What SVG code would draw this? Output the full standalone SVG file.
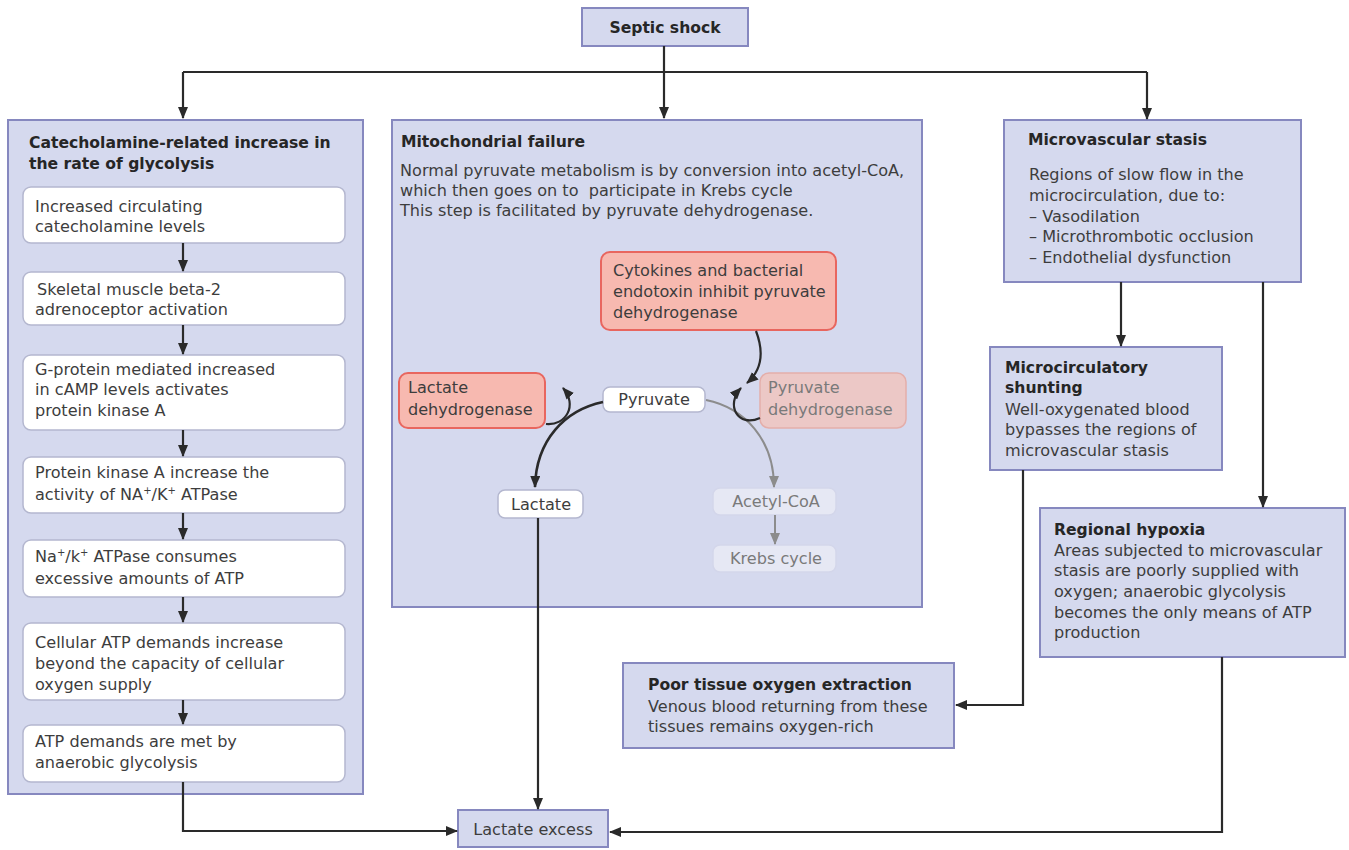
<svg xmlns="http://www.w3.org/2000/svg" width="1349" height="850" viewBox="0 0 1349 850">
<defs>
<style>
text{font-family:"DejaVu Sans","Liberation Sans",Arial,sans-serif;font-size:16.1px;fill:#3d3d3d}
.b{font-weight:bold;fill:#262626;font-size:15.6px}
.panel{fill:#d5d9ee;stroke:#8688bf;stroke-width:2}
.wb{fill:#ffffff;stroke:#b4b7cf;stroke-width:1.5}
.red{fill:#f7b9b0;stroke:#e8665f;stroke-width:2}
.fred{fill:#ecc8c6;stroke:#e4aeaa;stroke-width:1.5}
.fade{fill:#e6e8f4;stroke:#d3d6ea;stroke-width:1.5}
.ft{fill:#7a7a7a}
.ln{fill:none;stroke:#2a2a2a;stroke-width:2.2}
.gl{fill:none;stroke:#8c8c8c;stroke-width:2}
.sup{font-size:10px}
</style>
<marker id="ah" markerWidth="12" markerHeight="10" refX="11" refY="5" orient="auto" markerUnits="userSpaceOnUse"><path d="M0,0 L12,5 L0,10 z" fill="#2a2a2a"/></marker>
<marker id="ag" markerWidth="12" markerHeight="10" refX="11" refY="5" orient="auto" markerUnits="userSpaceOnUse"><path d="M0,0 L12,5 L0,10 z" fill="#8c8c8c"/></marker>
</defs>
<rect width="1349" height="850" fill="#ffffff"/>

<g id="septic-shock">
<rect x="582" y="8" width="166" height="38" class="panel"/>
<text class="b" x="665" y="33" text-anchor="middle">Septic shock</text>
</g>

<g id="catecholamine">
<rect x="8" y="120" width="355" height="674" class="panel"/>
<text class="b" x="29" y="148">Catecholamine-related increase in</text>
<text class="b" x="29" y="169">the rate of glycolysis</text>
</g>
<g id="step1">
<rect x="23" y="187" width="322" height="56" rx="8" class="wb"/>
<text x="35" y="212">Increased circulating</text>
<text x="35" y="232">catecholamine levels</text>
</g>
<g id="step2">
<rect x="23" y="272" width="322" height="53" rx="8" class="wb"/>
<text x="37" y="295">Skeletal muscle beta-2</text>
<text x="35" y="315">adrenoceptor activation</text>
</g>
<g id="step3">
<rect x="23" y="355" width="322" height="75" rx="8" class="wb"/>
<text x="35" y="375">G-protein mediated increased</text>
<text x="35" y="395">in cAMP levels activates</text>
<text x="35" y="416">protein kinase A</text>
</g>
<g id="step4">
<rect x="23" y="457" width="322" height="56" rx="8" class="wb"/>
<text x="35" y="478">Protein kinase A increase the</text>
<text x="35" y="500">activity of NA<tspan class="sup" dy="-6">+</tspan><tspan dy="6">/K</tspan><tspan class="sup" dy="-6">+</tspan><tspan dy="6"> ATPase</tspan></text>
</g>
<g id="step5">
<rect x="23" y="540" width="322" height="57" rx="8" class="wb"/>
<text x="35" y="562">Na<tspan class="sup" dy="-6">+</tspan><tspan dy="6">/k</tspan><tspan class="sup" dy="-6">+</tspan><tspan dy="6"> ATPase consumes</tspan></text>
<text x="35" y="584">excessive amounts of ATP</text>
</g>
<g id="step6">
<rect x="23" y="623" width="322" height="77" rx="8" class="wb"/>
<text x="35" y="648">Cellular ATP demands increase</text>
<text x="35" y="669">beyond the capacity of cellular</text>
<text x="35" y="690">oxygen supply</text>
</g>
<g id="step7">
<rect x="23" y="725" width="322" height="57" rx="8" class="wb"/>
<text x="35" y="747">ATP demands are met by</text>
<text x="35" y="768">anaerobic glycolysis</text>
</g>

<g id="mitochondrial">
<rect x="392" y="120" width="530" height="487" class="panel"/>
<text class="b" x="401" y="147">Mitochondrial failure</text>
<text x="400" y="176">Normal pyruvate metabolism is by conversion into acetyl-CoA,</text>
<text x="400" y="196" style="white-space:pre">which then goes on to  participate in Krebs cycle</text>
<text x="400" y="216">This step is facilitated by pyruvate dehydrogenase.</text>
</g>
<g id="cytokines">
<rect x="601" y="252" width="235" height="78" rx="9" class="red"/>
<text x="613" y="276">Cytokines and bacterial</text>
<text x="613" y="297">endotoxin inhibit pyruvate</text>
<text x="613" y="318">dehydrogenase</text>
</g>
<g id="lactate-dehydrogenase">
<rect x="399" y="373" width="146" height="55" rx="9" class="red"/>
<text x="408" y="393">Lactate</text>
<text x="408" y="415">dehydrogenase</text>
</g>
<g id="pyruvate">
<rect x="603" y="387" width="102" height="25" rx="7" class="wb"/>
<text x="654" y="405" text-anchor="middle">Pyruvate</text>
</g>
<g id="pyruvate-dehydrogenase">
<rect x="760" y="373" width="146" height="55" rx="9" class="fred"/>
<text class="ft" x="768" y="393">Pyruvate</text>
<text class="ft" x="768" y="415">dehydrogenase</text>
</g>
<g id="lactate">
<rect x="498" y="490" width="85" height="28" rx="7" class="wb"/>
<text x="541" y="510" text-anchor="middle">Lactate</text>
</g>
<g id="acetyl-coa">
<rect x="713" y="488" width="123" height="27" rx="7" class="fade"/>
<text class="ft" x="776" y="507" text-anchor="middle">Acetyl-CoA</text>
</g>
<g id="krebs">
<rect x="713" y="545" width="123" height="27" rx="7" class="fade"/>
<text class="ft" x="776" y="564" text-anchor="middle">Krebs cycle</text>
</g>

<g id="microvascular-stasis">
<rect x="1004" y="120" width="297" height="162" class="panel"/>
<text class="b" x="1028" y="145">Microvascular stasis</text>
<text x="1029" y="180">Regions of slow flow in the</text>
<text x="1029" y="201">microcirculation, due to:</text>
<text x="1029" y="222">– Vasodilation</text>
<text x="1029" y="242">– Microthrombotic occlusion</text>
<text x="1029" y="263">– Endothelial dysfunction</text>
</g>
<g id="shunting">
<rect x="990" y="347" width="232" height="123" class="panel"/>
<text class="b" x="1005" y="373">Microcirculatory</text>
<text class="b" x="1005" y="393">shunting</text>
<text x="1005" y="415">Well-oxygenated blood</text>
<text x="1005" y="435">bypasses the regions of</text>
<text x="1005" y="456">microvascular stasis</text>
</g>
<g id="regional-hypoxia">
<rect x="1040" y="508" width="305" height="149" class="panel"/>
<text class="b" x="1054" y="535">Regional hypoxia</text>
<text x="1054" y="556">Areas subjected to microvascular</text>
<text x="1054" y="576">stasis are poorly supplied with</text>
<text x="1054" y="597">oxygen; anaerobic glycolysis</text>
<text x="1054" y="618">becomes the only means of ATP</text>
<text x="1054" y="638">production</text>
</g>
<g id="poor-extraction">
<rect x="623" y="663" width="331" height="85" class="panel"/>
<text class="b" x="648" y="690">Poor tissue oxygen extraction</text>
<text x="648" y="712">Venous blood returning from these</text>
<text x="648" y="732">tissues remains oxygen-rich</text>
</g>
<g id="lactate-excess">
<rect x="458" y="810" width="150" height="37" class="panel"/>
<text x="533" y="835" text-anchor="middle">Lactate excess</text>
</g>

<g id="connectors">
<path class="ln" d="M664 46 V72 M183 72 H1147"/>
<path class="ln" d="M183 72 V118" marker-end="url(#ah)"/>
<path class="ln" d="M664 72 V118" marker-end="url(#ah)"/>
<path class="ln" d="M1147 72 V119" marker-end="url(#ah)"/>
<path class="ln" d="M183 243 V271" marker-end="url(#ah)"/>
<path class="ln" d="M183 325 V354" marker-end="url(#ah)"/>
<path class="ln" d="M183 430 V456" marker-end="url(#ah)"/>
<path class="ln" d="M183 513 V539" marker-end="url(#ah)"/>
<path class="ln" d="M183 597 V622" marker-end="url(#ah)"/>
<path class="ln" d="M183 700 V724" marker-end="url(#ah)"/>
<path class="ln" d="M183 782 V831 H457" marker-end="url(#ah)"/>
<path class="ln" d="M538 518 V809" marker-end="url(#ah)"/>
<path class="ln" d="M1222 657 V832 H610" marker-end="url(#ah)"/>
<path class="ln" d="M1121 282 V346" marker-end="url(#ah)"/>
<path class="ln" d="M1263 282 V507" marker-end="url(#ah)"/>
<path class="ln" d="M1023 470 V705 H956" marker-end="url(#ah)"/>
<path class="ln" d="M756 331 C764 352, 762 370, 747 383" marker-end="url(#ah)"/>
<path class="ln" style="stroke-width:2.6" d="M603 402 C565 410, 536 440, 535 487" marker-end="url(#ah)"/>
<path class="gl" d="M706 400 C745 408, 774 440, 774 487" marker-end="url(#ag)"/>
<path class="ln" d="M546 424 C566 426, 578 405, 563 388" marker-end="url(#ah)"/>
<path class="ln" d="M760 418 C738 428, 725 405, 741 388" marker-end="url(#ah)"/>
<path class="gl" d="M775 515 V544" marker-end="url(#ag)"/>
</g>
</svg>
